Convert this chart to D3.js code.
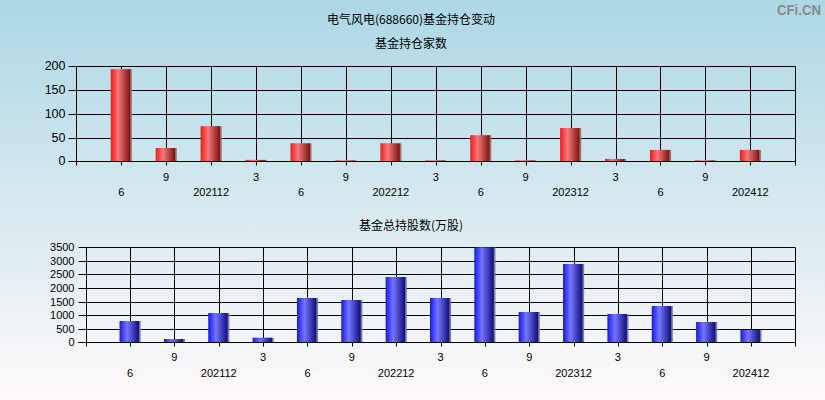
<!DOCTYPE html>
<html><head><meta charset="utf-8">
<script src="https://cdn.jsdelivr.net/npm/d3@7/dist/d3.min.js"></script>
<style>body{margin:0;padding:0;overflow:hidden}svg{display:block}</style>
</head><body>
<script>
// ---- data ----
const categories = ["2021-06","2021-09","2021-12","2022-03","2022-06","2022-09","2022-12","2023-03","2023-06","2023-09","2023-12","2024-03","2024-06","2024-09","2024-12"];
const tickLabels = ["6","9","202112","3","6","9","202212","3","6","9","202312","3","6","9","202412"];
const fundCounts = [194, 28, 74, 3, 38, 2, 38, 2, 55, 2, 70, 5, 24, 2, 24];
const fundShares = [785, 122, 1080, 170, 1632, 1558, 2406, 1632, 3495, 1116, 2885, 1043, 1337, 748, 454];
const countTicks = [0, 50, 100, 150, 200];
const shareTicks = [0, 500, 1000, 1500, 2000, 2500, 3000, 3500];
const title = "电气风电(688660)基金持仓变动";
const sub1 = "基金持仓家数";
const sub2 = "基金总持股数(万股)";

const W = 825, H = 400;
const svg = d3.select("body").append("svg").attr("width", W).attr("height", H);
const defs = svg.append("defs");
const bg = defs.append("linearGradient").attr("id","bg").attr("x1",0).attr("y1",0).attr("x2",0).attr("y2",1);
bg.append("stop").attr("offset","0%").attr("stop-color","#acd7e5");
bg.append("stop").attr("offset","100%").attr("stop-color","#fffafa");
svg.append("rect").attr("width",W).attr("height",H).attr("fill","url(#bg)");

function grad(id, c0, c1, c2) {
  const g = defs.append("linearGradient").attr("id",id).attr("x1",0).attr("y1",0).attr("x2",1).attr("y2",0);
  g.append("stop").attr("offset","0%").attr("stop-color",c0);
  g.append("stop").attr("offset","38%").attr("stop-color",c1);
  g.append("stop").attr("offset","100%").attr("stop-color",c2);
}
grad("gRed", "#ff1414", "#f27a7a", "#7e1010");
grad("gBlue", "#1414ff", "#7676ff", "#0c0c78");

const FONT = "'Liberation Sans', Arial, 'Noto Sans CJK SC', sans-serif";
const CJK = "'Noto Sans CJK SC', 'Liberation Sans', sans-serif";

svg.append("text").attr("x",411).attr("y",18).attr("text-anchor","middle").attr("dominant-baseline","central")
  .attr("font-family",CJK).attr("font-size",12).attr("fill","#000").text(title);
svg.append("text").attr("x",821).attr("y",15).attr("text-anchor","end")
  .attr("font-family",FONT).attr("font-weight","bold").attr("font-size",14).attr("fill","#8a8a8a")
  .attr("textLength",44).attr("lengthAdjust","spacingAndGlyphs").text("CFi.CN");

function chart(opts) {
  const {left, right, top, bottom, values, ticks, maxV, gradId, subtitle, subY, yFont, labY1, labY2, labelRight} = opts;
  const x = d3.scaleLinear().domain([0, categories.length + 1]).range([left, right]);
  const y = d3.scaleLinear().domain([0, maxV]).range([bottom, top]);
  const g = svg.append("g");
  const px = v => Math.round(v) + 0.5;
  svg.append("text").attr("x",411).attr("y",subY).attr("text-anchor","middle").attr("dominant-baseline","central")
    .attr("font-family",CJK).attr("font-size",12).attr("fill","#000").text(subtitle);
  // horizontal gridlines + ticks
  g.selectAll(".hg").data(ticks).join("line")
    .attr("x1", px(left) - 8).attr("x2", px(right))
    .attr("y1", d => px(y(d))).attr("y2", d => px(y(d)))
    .attr("stroke","#000").attr("stroke-width",1);
  // vertical gridlines with ticks below axis
  const idx = d3.range(0, categories.length + 2);
  g.selectAll(".vg").data(idx).join("line")
    .attr("x1", d => px(x(d))).attr("x2", d => px(x(d)))
    .attr("y1", px(top)).attr("y2", px(bottom) + 4)
    .attr("stroke","#000").attr("stroke-width",1);
  // y labels
  g.selectAll(".yl").data(ticks).join("text")
    .attr("x", labelRight).attr("y", d => y(d)).attr("text-anchor","end").attr("dominant-baseline","central")
    .attr("font-family",FONT).attr("font-size",yFont).attr("fill","#000").text(d => d);
  // bars
  const bw = 20;
  const bars = g.selectAll(".bar").data(values).join("g");
  bars.append("rect")
    .attr("x", (d,i) => x(i + 1) + bw/2 - 1.2).attr("width", 1.8)
    .attr("y", d => y(d)).attr("height", d => Math.max(0, y(0) - y(d)))
    .attr("fill","#808080");
  bars.append("rect")
    .attr("x", (d,i) => x(i + 1) - bw/2 - 0.5).attr("width", bw - 0.5)
    .attr("y", d => y(d)).attr("height", d => Math.max(0, y(0) - y(d)))
    .attr("fill", `url(#${gradId})`);
  // x axis line on top
  g.append("line").attr("x1", px(left) - 8).attr("x2", px(right)).attr("y1", px(bottom)).attr("y2", px(bottom))
    .attr("stroke","#000");
  // x labels
  g.selectAll(".xl").data(tickLabels).join("text")
    .attr("x", (d,i) => x(i + 1)).attr("y", (d,i) => i % 2 === 1 ? labY1 : labY2)
    .attr("text-anchor","middle").attr("dominant-baseline","central")
    .attr("font-family",FONT).attr("font-size",11).attr("fill","#000").text(d => d);
}

chart({left:76.3, right:795.3, top:66.3, bottom:161.3, values:fundCounts, ticks:countTicks, maxV:200,
  gradId:"gRed", subtitle:sub1, subY:42.5, yFont:12.5, labY1:176.5, labY2:192.3, labelRight:65.5});
chart({left:85.7, right:795.3, top:247.3, bottom:342.3, values:fundShares, ticks:shareTicks, maxV:3500,
  gradId:"gBlue", subtitle:sub2, subY:224.3, yFont:11, labY1:357.3, labY2:373, labelRight:74.5});
</script>
</body></html>
